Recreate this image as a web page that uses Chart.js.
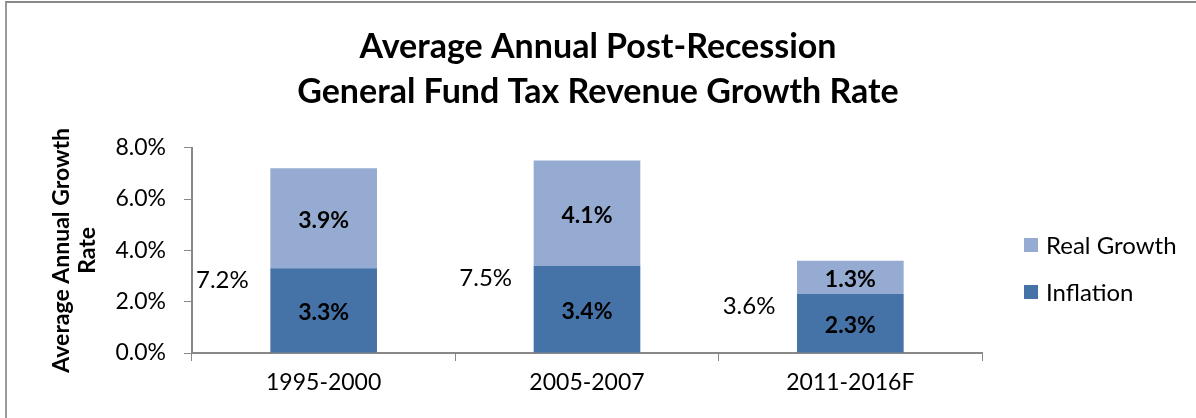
<!DOCTYPE html>
<html lang="en">
<head>
    <meta charset="UTF-8">
    <title>Average Annual Post-Recession General Fund Tax Revenue Growth Rate</title>
    <script src="https://cdn.jsdelivr.net/npm/chart.js"></script>
    <style>
        body { margin: 0; background: #fff; font-family: Lato, sans-serif; }
        #wrap { position: relative; width: 1196px; height: 418px; overflow: hidden; }
        #frame { position: absolute; left: 5px; top: 1px; width: 1300px; height: 500px;
                 border-top: 2px solid #888; border-left: 2px solid #999; }
        #legend { position: absolute; left: 1024px; top: 221px; font-size: 24px; color: #000; }
        #legend div { display: flex; align-items: center; height: 47px; }
        #legend span.box { width: 14px; height: 14px; margin-right: 8px; display: inline-block; }
    </style>
</head>
<body>
    <div id="wrap">
        <div id="frame"></div>
        <canvas id="chart" width="1196" height="418"></canvas>
        <div id="legend"></div>
    </div>

    <script>
        const periods = ['1995-2000', '2005-2007', '2011-2016F'];
        const inflation = [3.3, 3.4, 2.3];
        const realGrowth = [3.9, 4.1, 1.3];
        const totals = [7.2, 7.5, 3.6];
        const yTicks = [0, 2, 4, 6, 8];

        const inflationColor = '#4572A7';
        const realColor = '#95ABD1';

        // total labels sit left of each bar, just under the inflation top
        const totalLabels = {
            id: 'totalLabels',
            afterDatasetsDraw(chart) {
                const ctx = chart.ctx;
                const meta = chart.getDatasetMeta(0);
                const y = chart.scales.y;
                ctx.save();
                ctx.font = '24px Lato';
                ctx.fillStyle = '#000';
                ctx.textAlign = 'center';
                ctx.textBaseline = 'middle';
                meta.data.forEach((bar, i) => {
                    const left = bar.x - bar.width / 2;
                    ctx.fillText(totals[i].toFixed(1) + '%', left - 48, y.getPixelForValue(inflation[i]) + 12);
                });
                // segment values inside the bars
                ctx.font = 'bold 23px Lato';
                chart.data.datasets.forEach((ds, d) => {
                    chart.getDatasetMeta(d).data.forEach((bar, i) => {
                        const mid = (bar.y + bar.base) / 2;
                        ctx.fillText(ds.data[i].toFixed(1) + '%', bar.x, mid + 2);
                    });
                });
                ctx.restore();
            }
        };

        const chart = new Chart(document.getElementById('chart'), {
            type: 'bar',
            data: {
                labels: periods,
                datasets: [
                    { label: 'Inflation', data: inflation, backgroundColor: inflationColor, stack: 's' },
                    { label: 'Real Growth', data: realGrowth, backgroundColor: realColor, stack: 's' }
                ]
            },
            options: {
                responsive: false,
                animation: false,
                layout: { padding: 0 },
                datasets: { bar: { categoryPercentage: 1, barPercentage: 0.405 } },
                plugins: {
                    legend: { display: false },
                    tooltip: { enabled: false },
                    title: {
                        display: true,
                        text: ['Average Annual Post-Recession', 'General Fund Tax Revenue Growth Rate'],
                        color: '#000',
                        font: { family: 'Lato', size: 34, weight: 'bold', lineHeight: 1.32 },
                        padding: { top: 25, bottom: 33 }
                    }
                },
                scales: {
                    x: {
                        stacked: true,
                        grid: { display: true, drawOnChartArea: false, color: '#888', tickLength: 8, offset: true },
                        border: { color: '#888', width: 2 },
                        ticks: { color: '#000', font: { family: 'Lato', size: 23 }, padding: 8 },
                        afterFit(scale) { scale.height = 65; }
                    },
                    y: {
                        stacked: true,
                        min: 0,
                        max: 8,
                        afterBuildTicks(scale) { scale.ticks = yTicks.map(v => ({ value: v })); },
                        grid: { display: true, drawOnChartArea: false, color: '#888', tickLength: 8 },
                        border: { color: '#888', width: 2 },
                        ticks: {
                            color: '#000',
                            font: { family: 'Lato', size: 23 },
                            padding: 18,
                            callback: v => v.toFixed(1) + '%'
                        },
                        title: {
                            display: true,
                            text: ['Average Annual Growth', 'Rate'],
                            color: '#000',
                            font: { family: 'Lato', size: 23, weight: 'bold', lineHeight: 1.15 },
                            padding: { top: 48, bottom: 0 }
                        },
                        afterFit(scale) { scale.width = 192; }
                    },
                    // empty right-hand axis that only reserves room for the legend
                    side: {
                        position: 'right',
                        display: true,
                        grid: { display: false },
                        border: { display: false },
                        ticks: { display: false },
                        afterFit(scale) { scale.width = 214; }
                    }
                }
            },
            plugins: [totalLabels]
        });

        // legend, top entry is the upper segment
        const legend = document.getElementById('legend');
        chart.data.datasets.slice().reverse().forEach(ds => {
            const row = document.createElement('div');
            row.innerHTML = '<span class="box" style="background:' + ds.backgroundColor + '"></span>' + ds.label;
            legend.appendChild(row);
        });
    </script>
</body>
</html>
